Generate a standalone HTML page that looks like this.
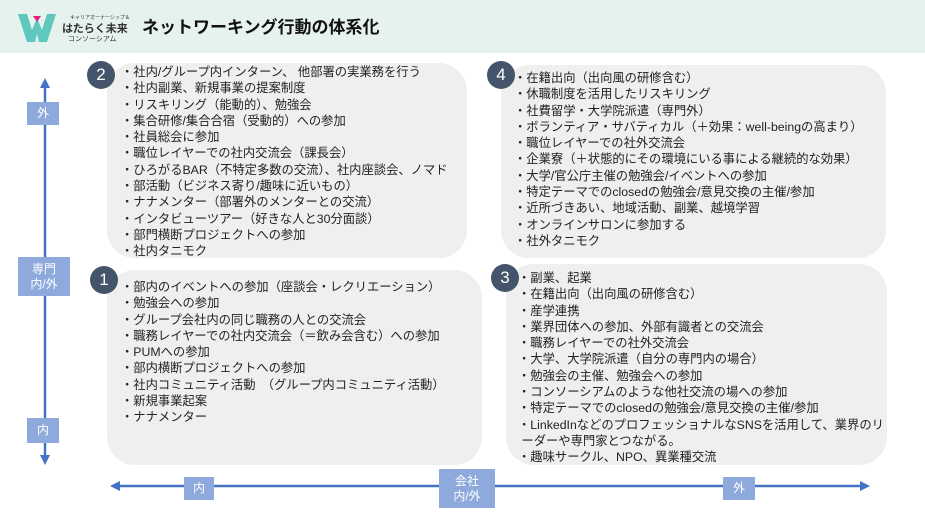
<!DOCTYPE html>
<html><head><meta charset="utf-8"><style>
body{margin:0;width:925px;height:519px;background:#fff;position:relative;overflow:hidden;font-family:"Liberation Sans","Noto Sans CJK JP",sans-serif;color:#222}
.hdr{position:absolute;left:0;top:0;width:925px;height:53px;background:#e6f2ee}
.title{position:absolute;left:142px;top:13px;font-size:17px;font-weight:bold;color:#111}
.box{position:absolute;background:#efefef;border-radius:28px}
.circ{position:absolute;width:28px;height:28px;border-radius:50%;background:#44546a;color:#fff;font-size:17px;text-align:center;line-height:28px}
.txt{position:absolute;font-size:12.3px;white-space:nowrap;line-height:16.3px}
.lab{position:absolute;background:#8ea9db;color:#fff;font-size:12px;text-align:center;display:flex;align-items:center;justify-content:center;line-height:15px}
</style></head><body>
<div class="hdr"></div>
<svg style="position:absolute;left:16px;top:12px" width="42" height="32"><polygon points="2,2 11,2 16,18 21,6 26,18 31,2 40,2 31,30 23,30 21,22 19,30 11,30" fill="#5ec8bf"/><polygon points="17,4 25,4 21,10" fill="#e0247a"/></svg>
<div style="position:absolute;left:70px;top:14px;font-size:5px;color:#333">キャリアオーナーシップ＆</div>
<div style="position:absolute;left:62px;top:20px;font-size:11px;font-weight:bold;color:#333">はたらく未来</div>
<div style="position:absolute;left:68px;top:34px;font-size:7px;color:#333">コンソーシアム</div>
<div class="title">ネットワーキング行動の体系化</div>

<div class="box" style="left:107px;top:63px;width:360px;height:195px"></div>
<div class="box" style="left:501px;top:65px;width:385px;height:193px"></div>
<div class="box" style="left:107px;top:270px;width:375px;height:195px"></div>
<div class="box" style="left:506px;top:264px;width:381px;height:201px"></div>

<div class="circ" style="left:87px;top:61px">2</div>
<div class="circ" style="left:487px;top:61px">4</div>
<div class="circ" style="left:90px;top:266px">1</div>
<div class="circ" style="left:491px;top:264px">3</div>

<div class="txt" style="left:121px;top:64px">・社内/グループ内インターン、 他部署の実業務を行う<br>・社内副業、新規事業の提案制度<br>・リスキリング（能動的）、勉強会<br>・集合研修/集合合宿（受動的）への参加<br>・社員総会に参加<br>・職位レイヤーでの社内交流会（課長会）<br>・ひろがるBAR（不特定多数の交流）、社内座談会、ノマド<br>・部活動（ビジネス寄り/趣味に近いもの）<br>・ナナメンター（部署外のメンターとの交流）<br>・インタビューツアー（好きな人と30分面談）<br>・部門横断プロジェクトへの参加<br>・社内タニモク</div>
<div class="txt" style="left:514px;top:70px">・在籍出向（出向風の研修含む）<br>・休職制度を活用したリスキリング<br>・社費留学・大学院派遣（専門外）<br>・ボランティア・サバティカル（＋効果：well-beingの高まり）<br>・職位レイヤーでの社外交流会<br>・企業寮（＋状態的にその環境にいる事による継続的な効果）<br>・大学/官公庁主催の勉強会/イベントへの参加<br>・特定テーマでのclosedの勉強会/意見交換の主催/参加<br>・近所づきあい、地域活動、副業、越境学習<br>・オンラインサロンに参加する<br>・社外タニモク</div>
<div class="txt" style="left:121px;top:279px">・部内のイベントへの参加（座談会・レクリエーション）<br>・勉強会への参加<br>・グループ会社内の同じ職務の人との交流会<br>・職務レイヤーでの社内交流会（＝飲み会含む）への参加<br>・PUMへの参加<br>・部内横断プロジェクトへの参加<br>・社内コミュニティ活動　（グループ内コミュニティ活動）<br>・新規事業起案<br>・ナナメンター</div>
<div class="txt" style="left:518px;top:270px">・副業、起業<br>・在籍出向（出向風の研修含む）<br>・産学連携<br>・業界団体への参加、外部有識者との交流会<br>・職務レイヤーでの社外交流会<br>・大学、大学院派遣（自分の専門内の場合）<br>・勉強会の主催、勉強会への参加<br>・コンソーシアムのような他社交流の場への参加<br>・特定テーマでのclosedの勉強会/意見交換の主催/参加<br>・LinkedInなどのプロフェッショナルなSNSを活用して、業界のリ<br>&nbsp;ーダーや専門家とつながる。<br>・趣味サークル、NPO、異業種交流</div>

<svg style="position:absolute;left:0;top:0" width="925" height="519">
<line x1="45" y1="86" x2="45" y2="458" stroke="#4472c4" stroke-width="2.5"/>
<polygon points="45,78 40,88 50,88" fill="#4472c4"/>
<polygon points="45,465 40,455 50,455" fill="#4472c4"/>
<line x1="118" y1="486" x2="862" y2="486" stroke="#4472c4" stroke-width="2.5"/>
<polygon points="110,486 120,481 120,491" fill="#4472c4"/>
<polygon points="870,486 860,481 860,491" fill="#4472c4"/>
</svg>
<div class="lab" style="left:27px;top:102px;width:32px;height:23px">外</div>
<div class="lab" style="left:18px;top:257px;width:52px;height:39px">専門<br>内/外</div>
<div class="lab" style="left:27px;top:418px;width:32px;height:25px">内</div>
<div class="lab" style="left:184px;top:477px;width:30px;height:23px">内</div>
<div class="lab" style="left:439px;top:469px;width:56px;height:39px">会社<br>内/外</div>
<div class="lab" style="left:723px;top:477px;width:32px;height:23px">外</div>
</body></html>
